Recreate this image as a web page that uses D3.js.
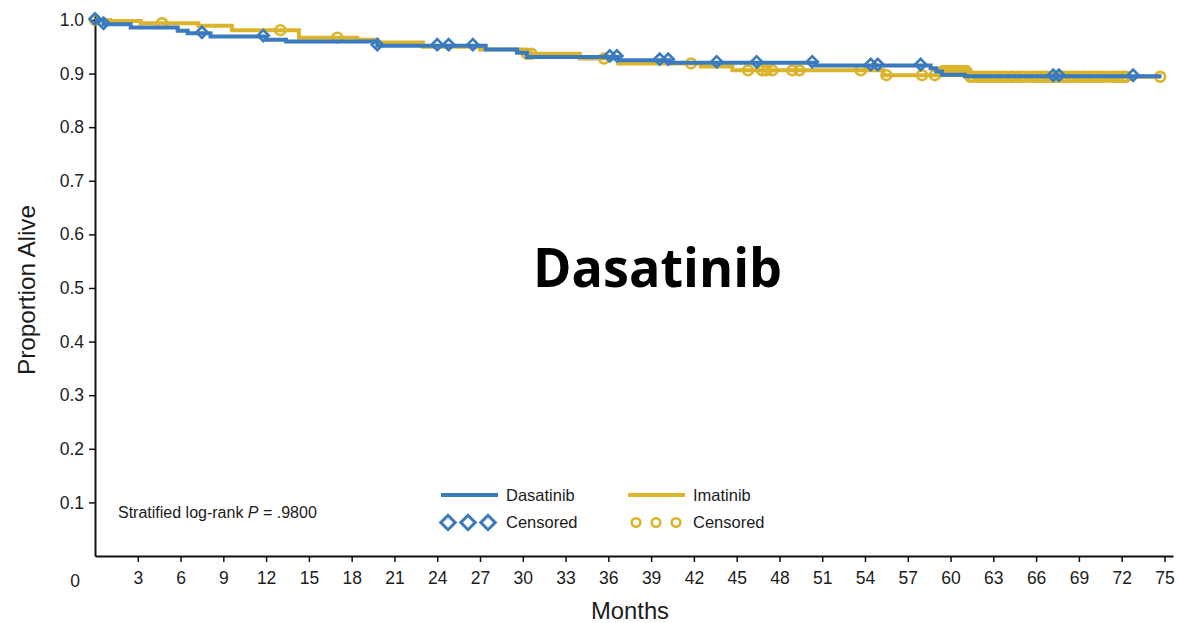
<!DOCTYPE html>
<html>
<head>
<meta charset="utf-8">
<script src="https://cdn.jsdelivr.net/npm/d3@7"></script>
<style>
  html, body { margin: 0; padding: 0; background: #fff; }
  svg { display: block; }
  text { font-family: "Liberation Sans", Arial, Helvetica, sans-serif; fill: #1c1c1c; }
</style>
</head>
<body>
<svg id="chart" width="1178" height="623"></svg>
<script>
// Axis ticks
const xTicks = [3, 6, 9, 12, 15, 18, 21, 24, 27, 30, 33, 36, 39, 42, 45, 48, 51, 54, 57, 60, 63, 66, 69, 72, 75];
const yTicks = [0.1, 0.2, 0.3, 0.4, 0.5, 0.6, 0.7, 0.8, 0.9, 1.0];

// Dasatinib Kaplan-Meier steps (month of step, proportion alive from then on)
const dasTimes = [0, 0.6, 2.5, 5.8, 6.5, 8.1, 12.0, 13.4, 19.8, 27.4, 29.6, 30.3, 36.7, 40.3, 50.6, 58.6, 59.0, 59.4, 61.0];
const dasSurv  = [1.0, 0.992, 0.986, 0.980, 0.975, 0.969, 0.963, 0.960, 0.952, 0.945, 0.939, 0.931, 0.925, 0.920, 0.915, 0.910, 0.904, 0.898, 0.895];
const dasLast = 74.8;
// Dasatinib censored observations (months)
const dasCensored = [0, 0.6, 7.5, 11.8, 19.8, 24.0, 24.8, 26.5, 36.1, 36.6, 39.6, 40.2, 43.6, 46.4, 50.3, 54.4, 54.9, 57.9, 67.2, 67.6, 72.8];

// Imatinib Kaplan-Meier steps
const imaTimes = [0, 1.05, 3.2, 7.25, 9.6, 14.3, 18.4, 19.8, 23.0, 27.0, 30.0, 34.0, 36.7, 42.5, 44.7, 55.3, 59.4, 61.2];
const imaSurv  = [1.0, 0.998, 0.994, 0.989, 0.981, 0.967, 0.963, 0.958, 0.950, 0.945, 0.937, 0.928, 0.919, 0.913, 0.906, 0.897, 0.905, 0.894];
const imaLast = 74.7;
// Imatinib censored observations (months)
const imaCensored = [0, 4.7, 13.0, 17.0, 30.3, 30.6, 35.7, 41.8, 45.8, 46.8, 47.1, 47.5, 48.9, 49.4, 53.7, 55.5, 58.0, 58.9,
  59.5, 59.7, 59.9, 60.1, 60.3, 60.5, 60.7, 60.9, 61.1,
  61.4, 61.6, 61.9, 62.1, 62.4, 62.6, 62.9, 63.1, 63.4, 63.7, 63.9, 64.2, 64.4, 64.7, 65.0, 65.2, 65.5, 65.8,
  66.0, 66.3, 66.5, 66.8, 67.1, 67.3, 67.6, 67.9, 68.1, 68.4, 68.6, 68.9, 69.2, 69.4, 69.7, 70.0, 70.2, 70.5,
  70.7, 71.0, 71.3, 71.5, 71.8, 72.1, 72.3, 74.7];

const BLUE = "#3a7abf";
const GOLD = "#dbb42c";

const svg = d3.select("#chart");
svg.append("rect").attr("width", 1178).attr("height", 623).attr("fill", "#fff");

const x = d3.scaleLinear().domain([0, 75.6]).range([95, 1173]);
const y = d3.scaleLinear().domain([0, 1.01]).range([556, 14.6]);

// Y axis
const yAxis = svg.append("g")
  .attr("transform", `translate(${x(0)},0)`)
  .call(d3.axisLeft(y).tickValues(yTicks).tickSize(6).tickSizeOuter(0).tickPadding(5)
    .tickFormat(d3.format(".1f")));
yAxis.select(".domain").attr("stroke", "#111").attr("stroke-width", 2);
yAxis.selectAll(".tick line").attr("stroke", "#111").attr("stroke-width", 1.5);
yAxis.selectAll(".tick text").style("font-size", "17.5px")
  .style("font-family", '"Liberation Sans", Arial, sans-serif');

// X axis
const xAxis = svg.append("g")
  .attr("transform", `translate(0,${y(0)})`)
  .call(d3.axisBottom(x).tickValues(xTicks).tickSize(6).tickSizeOuter(0).tickPadding(10)
    .tickFormat(d3.format("d")));
xAxis.select(".domain").attr("stroke", "#111").attr("stroke-width", 2);
xAxis.selectAll(".tick line").attr("stroke", "#111").attr("stroke-width", 1.5);
xAxis.selectAll(".tick text").style("font-size", "17.5px")
  .style("font-family", '"Liberation Sans", Arial, sans-serif');

// Shared origin label
svg.append("text").attr("x", x(0) - 20).attr("y", 586.5)
  .attr("text-anchor", "middle").style("font-size", "17.5px").text("0");

// Axis titles
svg.append("text")
  .attr("transform", `translate(35,290) rotate(-90)`)
  .attr("text-anchor", "middle")
  .attr("textLength", 170).attr("lengthAdjust", "spacingAndGlyphs")
  .style("font-size", "24px").text("Proportion Alive");
svg.append("text")
  .attr("x", 630).attr("y", 619).attr("text-anchor", "middle")
  .attr("textLength", 78).attr("lengthAdjust", "spacingAndGlyphs")
  .style("font-size", "24px").text("Months");

// Step function helpers
function stepPoints(times, surv, last) {
  const pts = times.map((t, i) => [t, surv[i]]);
  pts.push([last, surv[surv.length - 1]]);
  return pts;
}
function survAt(times, surv, t) {
  let v = surv[0];
  for (let i = 0; i < times.length; i++) if (times[i] <= t) v = surv[i];
  return v;
}

const line = d3.line().x(d => x(d[0])).y(d => y(d[1])).curve(d3.curveStepAfter);

// Imatinib curve and censor marks
svg.append("path")
  .datum(stepPoints(imaTimes, imaSurv, imaLast))
  .attr("d", line).attr("fill", "none")
  .attr("stroke", GOLD).attr("stroke-width", 4);
svg.append("g").selectAll("circle").data(imaCensored).join("circle")
  .attr("cx", d => x(d)).attr("cy", d => y(survAt(imaTimes, imaSurv, d)))
  .attr("r", 4.9).attr("fill", "none").attr("stroke", GOLD).attr("stroke-width", 2.7);

// Dasatinib curve and censor marks
svg.append("path")
  .datum(stepPoints(dasTimes, dasSurv, dasLast))
  .attr("d", line).attr("fill", "none")
  .attr("stroke", BLUE).attr("stroke-width", 4);
const diamondSmall = d3.symbol().type(d3.symbolSquare).size(62);
svg.append("g").selectAll("path").data(dasCensored).join("path")
  .attr("d", diamondSmall)
  .attr("transform", d => `translate(${x(d)},${y(survAt(dasTimes, dasSurv, d)) - 1}) rotate(45)`)
  .attr("fill", "none").attr("stroke", BLUE).attr("stroke-width", 2.6);

// Big series title
svg.append("text")
  .attr("x", 657.5).attr("y", 287).attr("text-anchor", "middle")
  .attr("textLength", 249).attr("lengthAdjust", "spacingAndGlyphs")
  .style("font-family", '"Open Sans", "Liberation Sans", sans-serif')
  .style("font-weight", "bold").style("font-size", "54px").style("fill", "#000")
  .text("Dasatinib");

// Statistic note
const stat = svg.append("text").attr("x", 118).attr("y", 518).style("font-size", "16px");
stat.append("tspan").text("Stratified log-rank ");
stat.append("tspan").style("font-style", "italic").text("P");
stat.append("tspan").text(" = .9800");

// Legend
const legend = [
  { name: "Dasatinib", color: BLUE, x0: 441, mark: "diamond" },
  { name: "Imatinib", color: GOLD, x0: 628, mark: "circle" }
];
const lg = svg.append("g");
legend.forEach(s => {
  lg.append("line").attr("x1", s.x0).attr("x2", s.x0 + 57)
    .attr("y1", 495).attr("y2", 495).attr("stroke", s.color).attr("stroke-width", 4);
  lg.append("text").attr("x", s.x0 + 65).attr("y", 500.5).style("font-size", "16.5px").text(s.name);
  const offsets = [0, 20, 40];
  offsets.forEach(o => {
    if (s.mark === "diamond") {
      lg.append("path").attr("d", d3.symbol().type(d3.symbolSquare).size(105))
        .attr("transform", `translate(${s.x0 + 7 + o},522.5) rotate(45)`)
        .attr("fill", "none").attr("stroke", s.color).attr("stroke-width", 3);
    } else {
      lg.append("circle").attr("cx", s.x0 + 8 + o).attr("cy", 522.5).attr("r", 4.3)
        .attr("fill", "none").attr("stroke", s.color).attr("stroke-width", 2.6);
    }
  });
  lg.append("text").attr("x", s.x0 + 65).attr("y", 527.5).style("font-size", "16.5px").text("Censored");
});
</script>
</body>
</html>
